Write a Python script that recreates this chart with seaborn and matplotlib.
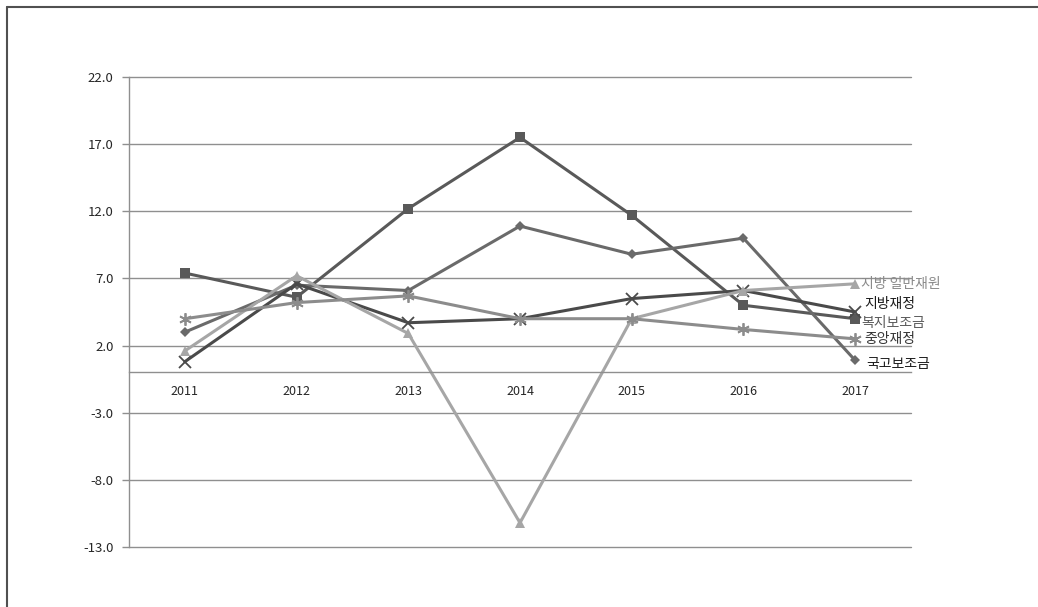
import matplotlib
matplotlib.use("Agg")
import matplotlib.pyplot as plt
import seaborn as sns
import pandas as pd
import numpy as np
from matplotlib.lines import Line2D
from matplotlib.ticker import FixedLocator, FuncFormatter

sns.set_theme(style="white")
plt.rcParams['font.family'] = ['Noto Sans CJK KR', 'DejaVu Sans']

years = ["2011", "2012", "2013", "2014", "2015", "2016", "2017"]
welfare_subsidy = [7.4, 5.6, 12.2, 17.5, 11.7, 5.0, 4.0]       # 복지보조금
national_subsidy = [3.0, 6.5, 6.1, 10.9, 8.8, 10.0, 0.9]       # 국고보조금
local_finance = [0.8, 6.6, 3.7, 4.0, 5.5, 6.1, 4.5]            # 지방재정
local_general = [1.6, 7.2, 2.9, -11.2, 4.0, 6.1, 6.6]          # 지방 일반재원
central_finance = [4.0, 5.2, 5.7, 4.0, 4.0, 3.2, 2.5]          # 중앙재정
yticks = [22.0, 17.0, 12.0, 7.0, 2.0, -3.0, -8.0, -13.0]

series = [
    ("복지보조금", welfare_subsidy, "#595959", "s", 7, "#595959", (6, -4)),
    ("국고보조금", national_subsidy, "#6a6a6a", "D", 5, "#1a1a1a", (11, -4)),
    ("지방재정", local_finance, "#4a4a4a", "x", 8, "#1a1a1a", (9, 8)),
    ("지방 일반재원", local_general, "#a6a6a6", "^", 7, "#8a8a8a", (6, 0)),
    ("중앙재정", central_finance, "#8c8c8c", (6, 2, 0), 9, "#333333", (9, 0)),
]

fig = plt.figure(figsize=(10.38, 6.07), dpi=100)
ax = fig.add_axes([129/1038, 1-547/607, (911-129)/1038, (547-77)/607])

xpos = np.arange(len(years))
for name, vals, col, mk, ms, tcol, off in series:
    df = pd.DataFrame({"x": xpos, "y": vals})
    kw = dict(marker=mk, markersize=ms, color=col, linewidth=2.2)
    if mk in ("x", (6, 2, 0)):
        kw.update(markeredgewidth=1.3, markeredgecolor=col)
    else:
        kw.update(markeredgewidth=0, markerfacecolor=col)
    sns.lineplot(data=df, x="x", y="y", ax=ax, legend=False, **kw)
    ax.annotate(name, xy=(xpos[-1], vals[-1]), xytext=(off[0]*0.72, off[1]*0.72),
                textcoords="offset points", ha="left", va="center",
                fontsize=10, color=tcol)

ax.set_xlim(-0.5, len(years) - 0.5)
ax.set_ylim(-13, 22)
ax.yaxis.set_major_locator(FixedLocator(yticks))
ax.yaxis.set_major_formatter(FuncFormatter(lambda v, p: f"{v:.1f}"))
ax.grid(axis="y", color="#8f8f8f", linewidth=1.0)
ax.set_axisbelow(True)

ax.set_xticks(xpos)
ax.set_xticklabels(years)
ax.set_xticks(np.arange(-0.5, len(years), 1.0), minor=True)
ax.tick_params(axis="x", which="major", length=0, pad=9, labelsize=9, colors="#262626")
ax.tick_params(axis="x", which="minor", length=4, width=1, color="#8f8f8f", direction="out")
ax.tick_params(axis="y", which="major", length=5, width=1, color="#8f8f8f", direction="out",
               labelsize=9.5, labelcolor="#262626", pad=6, left=True)
ax.set_xlabel("")
ax.set_ylabel("")
for gl in ax.get_ygridlines():
    gl.set_clip_on(False)

for s in ["top", "right"]:
    ax.spines[s].set_visible(False)
ax.spines["bottom"].set_position(("data", 0))
ax.spines["bottom"].set_color("#8f8f8f")
ax.spines["bottom"].set_linewidth(1.0)
ax.spines["left"].set_color("#8f8f8f")
ax.spines["left"].set_linewidth(1.0)

# outer frame (left and top edges)
fig.add_artist(Line2D([6.5/1038, 6.5/1038], [0, 1-6.5/607], color="#505050", linewidth=1.5))
fig.add_artist(Line2D([6.5/1038, 1], [1-6.5/607, 1-6.5/607], color="#505050", linewidth=1.5))

fig.savefig("out.png", dpi=100)
